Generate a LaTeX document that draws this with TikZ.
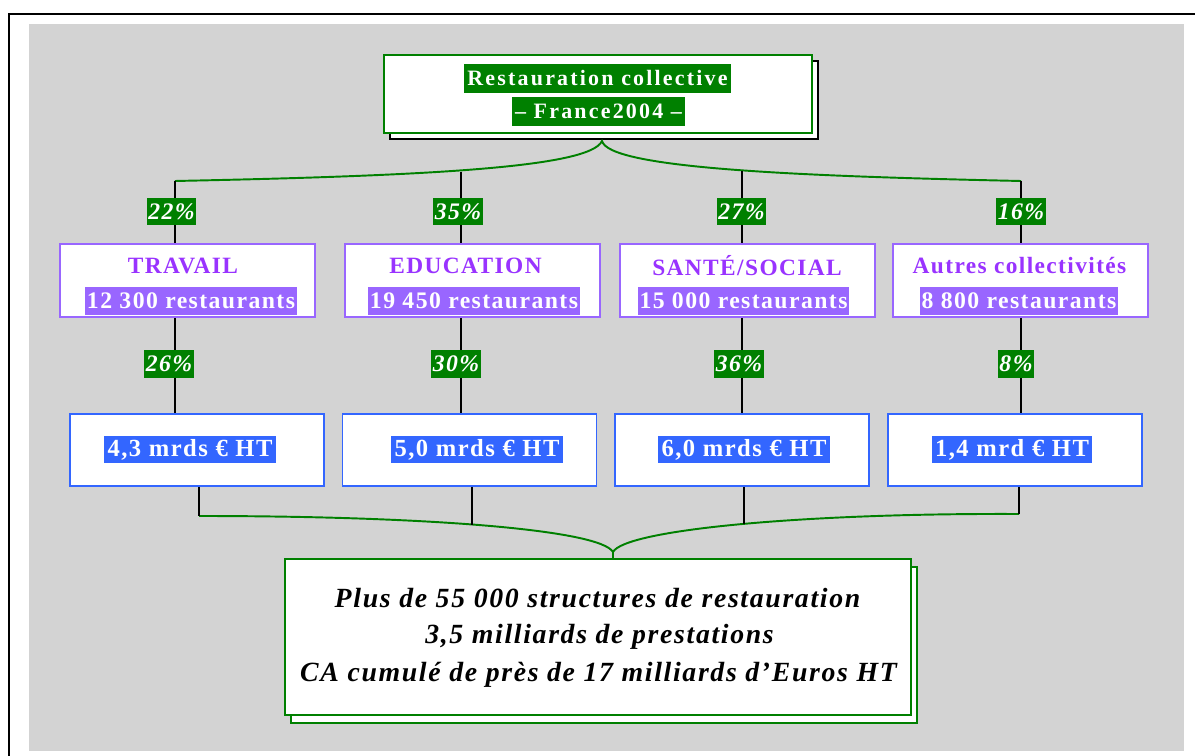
\documentclass[tikz,border=0pt]{standalone}
\usepackage{fontspec}
\setmainfont{Liberation Serif}
\newfontfamily\wideserif[LetterSpace=10]{Liberation Serif}
\newfontfamily\midserif[LetterSpace=6]{Liberation Serif}
\usetikzlibrary{shadows}
\definecolor{hlgreen}{RGB}{0,128,0}
\definecolor{boxpurple}{RGB}{153,102,255}
\definecolor{txtpurple}{RGB}{153,51,255}
\definecolor{boxblue}{RGB}{51,102,255}
\definecolor{bggray}{RGB}{211,211,211}
\newcommand{\titlefont}{\wideserif\bfseries\fontsize{12.5}{15}\selectfont}
\newcommand{\secfont}{\midserif\bfseries\fontsize{13.3}{15}\selectfont}
\newcommand{\countfont}{\midserif\bfseries\fontsize{13.5}{15}\selectfont}
\newcommand{\cafont}{\midserif\bfseries\fontsize{14}{15}\selectfont}
\newcommand{\pctfont}{\midserif\bfseries\itshape\fontsize{13.5}{15}\selectfont}
\newcommand{\sumfont}{\midserif\bfseries\itshape\fontsize{15.8}{17}\selectfont}
\begin{document}
\begin{tikzpicture}[x=0.02cm,y=-0.02cm]
        \tikzstyle{frame}=[line width=1.2pt]
        \tikzstyle{topbox}=[draw=hlgreen,fill=white,line width=1.1pt,minimum width=8.56cm,minimum height=1.56cm,
          copy shadow={shadow xshift=0.12cm,shadow yshift=-0.12cm,draw=black,fill=white,line width=1.1pt}]
        \tikzstyle{secbox}=[draw=boxpurple,fill=white,line width=1.1pt,minimum width=5.1cm,minimum height=1.46cm]
        \tikzstyle{cabox}=[draw=boxblue,fill=white,line width=1.1pt,minimum width=5.08cm,minimum height=1.44cm]
        \tikzstyle{sumbox}=[draw=hlgreen,fill=white,line width=1.1pt,minimum width=12.52cm,minimum height=3.12cm,
          copy shadow={shadow xshift=0.12cm,shadow yshift=-0.16cm,draw=hlgreen,fill=white,line width=1.1pt}]
        \tikzstyle{titlehl}=[fill=hlgreen,text=white,font=\titlefont,inner xsep=2pt,inner ysep=0pt,minimum height=16pt]
        \tikzstyle{pct}=[fill=hlgreen,text=white,font=\pctfont,inner xsep=1pt,inner ysep=0pt,minimum height=15.5pt]
        \tikzstyle{sectxt}=[text=txtpurple,font=\secfont,inner sep=0pt]
        \tikzstyle{counthl}=[fill=boxpurple,text=white,font=\countfont,inner xsep=1pt,inner ysep=0pt,minimum height=15.8pt]
        \tikzstyle{cahl}=[fill=boxblue,text=white,font=\cafont,inner xsep=2pt,inner ysep=0pt,minimum height=15.3pt]
        \tikzstyle{sumtxt}=[text=black,font=\sumfont,inner sep=0pt]
        \tikzstyle{tick}=[draw=black,line width=1.1pt]
        \tikzstyle{brace}=[draw=hlgreen,line width=1.1pt]

        \useasboundingbox (0,0) rectangle (1195,756);
        \fill[bggray] (29,24) rectangle (1184,751);
        \draw[frame] (9,756) -- (9,14) -- (1195,14);

        % top box
        \node [topbox] (title) at (598,94) {};
        \node [titlehl] (titleA) at (597.5,78.5) {Restauration collective};
        \node [titlehl] (titleB) at (598.5,111.5) {– France2004 –};

        % sectors
        \node [secbox] (trav) at (187.5,280.5) {};
        \node [secbox] (educ) at (472.5,280.5) {};
        \node [secbox] (sant) at (747.5,280.5) {};
        \node [secbox] (autr) at (1020.5,280.5) {};
        \node [sectxt] (travname) at (183,266) {TRAVAIL};
        \node [sectxt] (educname) at (465.5,266) {EDUCATION};
        \node [sectxt] (santname) at (747,266) {SANTÉ/SOCIAL};
        \node [sectxt] (autrname) at (1019.5,266) {Autres collectivités};
        \node [counthl] (travnb) at (191,301) {12 300 restaurants};
        \node [counthl] (educnb) at (474,301) {19 450 restaurants};
        \node [counthl] (santnb) at (743.5,301) {15 000 restaurants};
        \node [counthl] (autrnb) at (1019,301) {8 800 restaurants};

        % turnover boxes
        \node [cabox] (travca) at (197,450) {};
        \node [cabox] (educca) at (469.5,450) {};
        \node [cabox] (santca) at (742,450) {};
        \node [cabox] (autrca) at (1015,450) {};
        \node [cahl] (travmd) at (190,449.5) {4,3 mrds € HT};
        \node [cahl] (educmd) at (477,449.5) {5,0 mrds € HT};
        \node [cahl] (santmd) at (744,449.5) {6,0 mrds € HT};
        \node [cahl] (autrmd) at (1012,449.5) {1,4 mrd € HT};

        % summary
        \node [sumbox] (summary) at (598,637) {};
        \node [sumtxt] (sumA) at (597.5,598) {Plus de 55 000 structures de restauration};
        \node [sumtxt] (sumB) at (599.5,637) {3,5 milliards de prestations};
        \node [sumtxt] (sumC) at (598.5,675) {CA cumulé de près de 17 milliards d’Euros HT};

        % upper brace
        \coordinate (bt1) at (175,181);
        \coordinate (bt2) at (461,172);
        \coordinate (bt3) at (742,171);
        \coordinate (bt4) at (1021,181);
        \coordinate (btcusp) at (602,141);
        \path[brace] (bt1) .. controls (420,176) and (590,168) .. (btcusp)
                     .. controls (609,168) and (790,176) .. (bt4);

        % lower brace
        \coordinate (bb1) at (199,516);
        \coordinate (bb2) at (472,525);
        \coordinate (bb3) at (744,524);
        \coordinate (bb4) at (1019,514);
        \coordinate (bbcusp) at (613,552);
        \path[brace] (bb1) .. controls (430,516) and (600,530) .. (bbcusp)
                     .. controls (625,530) and (800,513) .. (bb4);
        \path[brace] (bbcusp) -- (bbcusp |- summary.north);

        \path[tick] (bt1) -- (bt1 |- trav.north);
        \path[tick] (bt2) -- (bt2 |- educ.north);
        \path[tick] (bt3) -- (bt3 |- sant.north);
        \path[tick] (bt4) -- (bt4 |- autr.north);
        \path[tick] (bt1 |- trav.south) -- (bt1 |- travca.north);
        \path[tick] (bt2 |- educ.south) -- (bt2 |- educca.north);
        \path[tick] (bt3 |- sant.south) -- (bt3 |- santca.north);
        \path[tick] (bt4 |- autr.south) -- (bt4 |- autrca.north);
        \path[tick] (bb1 |- travca.south) -- (bb1);
        \path[tick] (bb2 |- educca.south) -- (bb2);
        \path[tick] (bb3 |- santca.south) -- (bb3);
        \path[tick] (bb4 |- autrca.south) -- (bb4);

        % shares
        \node [pct] (p22) at (171.5,211.5) {22\%};
        \node [pct] (p35) at (458,211.5) {35\%};
        \node [pct] (p27) at (741.5,211.5) {27\%};
        \node [pct] (p16) at (1021,211.5) {16\%};
        \node [pct] (p26) at (169,364) {26\%};
        \node [pct] (p30) at (456,364) {30\%};
        \node [pct] (p36) at (739,364) {36\%};
        \node [pct] (p8) at (1016,364) {8\%};
\end{tikzpicture}
\end{document}
